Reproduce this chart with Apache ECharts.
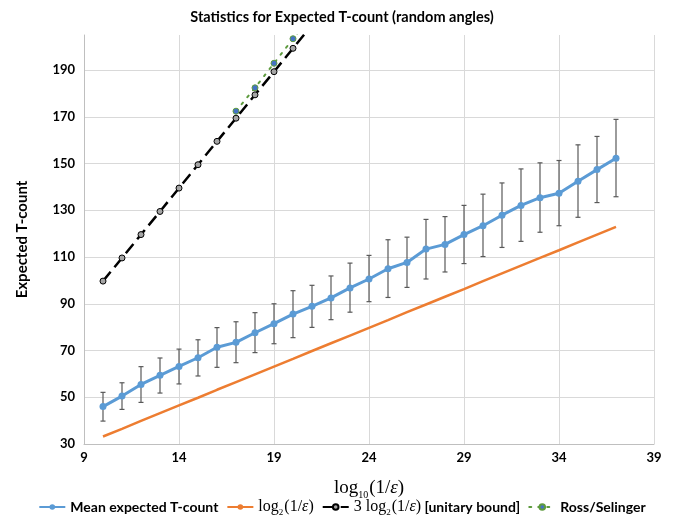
<!DOCTYPE html>
<html>
<head>
<meta charset="utf-8">
<script src="https://cdn.jsdelivr.net/npm/echarts@6/dist/echarts.min.js"></script>
<style>html,body{margin:0;padding:0;background:#fff}#c{width:684px;height:525px}</style>
</head>
<body>
<div id="c"></div>
<script>
// ---- data ----
const meanX = [10,11,12,13,14,15,16,17,18,19,20,21,22,23,24,25,26,27,28,29,30,31,32,33,34,35,36,37];
const meanT = [46.0,50.5,55.5,59.4,63.2,66.9,71.4,73.5,77.6,81.5,85.6,88.9,92.5,96.8,100.6,105.0,107.7,113.4,115.4,119.6,123.4,127.9,132.1,135.4,137.3,142.4,147.4,152.3];
const errLow = [39.8,44.8,47.8,51.8,55.7,59.1,62.8,64.8,69.1,72.9,75.5,79.9,83.2,86.4,90.9,92.7,97.0,100.6,103.6,107.2,110.2,114.1,116.7,120.6,123.4,127.0,133.3,135.8];
const errHigh = [52.1,56.2,63.1,66.8,70.6,74.6,79.8,82.3,86.2,90.0,95.6,97.9,101.9,107.4,110.7,117.4,118.5,126.1,127.3,132.1,136.9,141.7,147.7,150.3,151.3,158.0,161.6,168.9];
const log2Vals = [33.2,36.5,39.9,43.2,46.5,49.8,53.2,56.5,59.8,63.1,66.4,69.8,73.1,76.4,79.7,83.0,86.4,89.7,93.0,96.3,99.7,103.0,106.3,109.6,112.9,116.3,119.6,122.9];
const boundX = [10,11,12,13,14,15,16,17,18,19,20,21];
const boundVals = [99.7,109.6,119.6,129.5,139.5,149.5,159.5,169.4,179.4,189.3,199.3,209.3];
const rsX = [17,18,19,20,21];
const rsVals = [172.4,182.4,192.9,203.4,213.6];
const xTicks = {min: 9, max: 39, step: 5};
const yTicks = {min: 30, max: 205, step: 20};

const names = {
  mean: 'Mean expected T-count',
  log2: 'log2(1/ε)',
  bound: '3 log2(1/ε) [unitary bound]',
  rs: 'Ross/Selinger'
};

const zip = (xs, ys) => xs.map((x, i) => [x, ys[i]]);
const errData = meanX.map((x, i) => [x, errLow[i], errHigh[i]]);

const SANS = 'Lato, "Open Sans", sans-serif';
const SERIF = '"Liberation Serif", "DejaVu Serif", serif';
function mathStyles(big, small, lh) {
  return {
    m: {fontFamily: SERIF, fontSize: big, fontWeight: 'normal', color: '#000', lineHeight: lh, verticalAlign: 'middle'},
    s: {fontFamily: SERIF, fontSize: small, fontWeight: 'normal', color: '#000', lineHeight: lh, verticalAlign: 'bottom', padding: [0, 1, 0, 0]},
    i: {fontFamily: SERIF, fontSize: big, fontWeight: 'normal', fontStyle: 'italic', color: '#000', lineHeight: lh, verticalAlign: 'middle'},
    b: {fontFamily: SANS, fontSize: 14, fontWeight: 'bold', color: '#000', lineHeight: lh, verticalAlign: 'middle'}
  };
}

const chart = echarts.init(document.getElementById('c'), null, {renderer: 'canvas'});
chart.setOption({
  animation: false,
  backgroundColor: '#fff',
  title: {
    text: 'Statistics for Expected T-count (random angles)',
    left: 'center', top: 5,
    textStyle: {fontFamily: SANS, fontSize: 14.5, fontWeight: 'bold', color: '#000'}
  },
  grid: {left: 84, right: 30, top: 35, bottom: 81, containLabel: false},
  xAxis: {
    type: 'value', min: xTicks.min, max: xTicks.max, interval: xTicks.step,
    axisLine: {show: true, lineStyle: {color: '#bfbfbf', width: 1}},
    axisTick: {show: false},
    splitLine: {show: true, lineStyle: {color: '#d9d9d9', width: 1}},
    axisLabel: {fontFamily: SANS, fontSize: 13, fontWeight: 'bold', color: '#000', margin: 7},
    name: '{m|log}{s|10}{m|(1/}{i|ε}{m|)}',
    nameLocation: 'middle', nameGap: 32,
    nameTextStyle: {rich: mathStyles(19, 10, 24)}
  },
  yAxis: {
    type: 'value', min: yTicks.min, max: yTicks.max, interval: yTicks.step,
    axisLine: {show: true, lineStyle: {color: '#bfbfbf', width: 1}},
    axisTick: {show: false},
    splitLine: {show: true, showMaxLine: false, lineStyle: {color: '#d9d9d9', width: 1}},
    axisLabel: {fontFamily: SANS, fontSize: 13, fontWeight: 'bold', color: '#000', margin: 9, showMaxLabel: false},
    name: 'Expected T-count', nameLocation: 'middle', nameGap: 54, nameRotate: 90,
    nameTextStyle: {fontFamily: SANS, fontSize: 15, fontWeight: 'bold', color: '#000'}
  },
  legend: {
    data: [names.mean, names.log2, names.bound, names.rs],
    bottom: 3, left: 'center',
    itemWidth: 26, itemHeight: 7, itemGap: 8,
    textStyle: {fontFamily: SANS, fontSize: 14, fontWeight: 'bold', color: '#000', rich: mathStyles(16, 9, 20)},
    formatter: function (n) {
      if (n === names.log2) return '{m|log}{s|2}{m|(1/}{i|ε}{m|)}';
      if (n === names.bound) return '{m|3 log}{s|2}{m|(1/}{i|ε}{m|)} {b|[unitary bound]}';
      return n;
    }
  },
  series: [
    {
      type: 'custom', name: 'err', z: 1, silent: true,
      data: errData,
      encode: {x: 0, y: [1, 2]},
      renderItem: function (params, api) {
        const x = api.value(0);
        const lo = api.coord([x, api.value(1)]);
        const hi = api.coord([x, api.value(2)]);
        const w = 2.5;
        const st = {stroke: '#595959', lineWidth: 1.2};
        return {type: 'group', children: [
          {type: 'line', shape: {x1: lo[0], y1: lo[1], x2: hi[0], y2: hi[1]}, style: st},
          {type: 'line', shape: {x1: lo[0] - w, y1: lo[1], x2: lo[0] + w, y2: lo[1]}, style: st},
          {type: 'line', shape: {x1: hi[0] - w, y1: hi[1], x2: hi[0] + w, y2: hi[1]}, style: st}
        ]};
      }
    },
    {
      type: 'line', name: names.log2, z: 2,
      data: zip(meanX, log2Vals),
      symbol: 'none', lineStyle: {color: '#ed7d31', width: 2.5},
      itemStyle: {color: '#ed7d31'}
    },
    {
      type: 'line', name: names.mean, z: 3,
      data: zip(meanX, meanT),
      symbol: 'circle', symbolSize: 7,
      lineStyle: {color: '#5b9bd5', width: 3},
      itemStyle: {color: '#5b9bd5'}
    },
    {
      type: 'line', name: names.rs, z: 4,
      data: zip(rsX, rsVals),
      symbol: 'circle', symbolSize: 6,
      lineStyle: {color: '#5e9b3e', width: 2, type: [2, 7], cap: 'round'},
      itemStyle: {color: '#4472c4', borderColor: '#5e9b3e', borderWidth: 1}
    },
    {
      type: 'line', name: names.bound, z: 5,
      data: zip(boundX, boundVals),
      symbol: 'circle', symbolSize: 6, showAllSymbol: true,
      lineStyle: {color: '#000', width: 2.5, type: [12, 6]},
      itemStyle: {color: '#a5a5a5', borderColor: '#000', borderWidth: 1}
    }
  ]
});
</script>
</body>
</html>
